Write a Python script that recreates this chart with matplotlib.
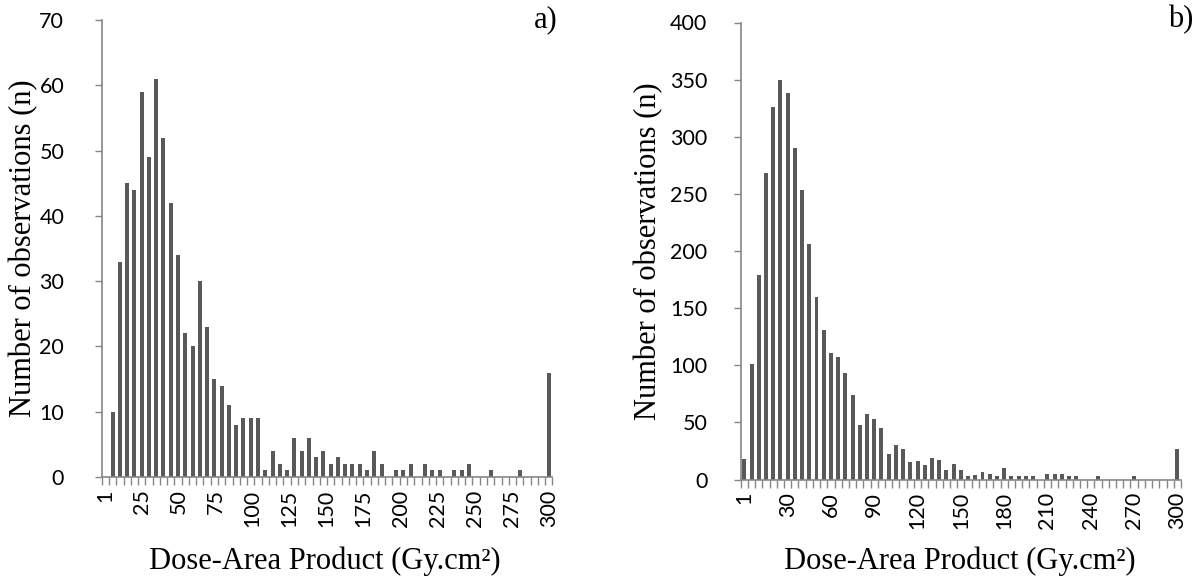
import numpy as np
import matplotlib.pyplot as plt

# Panel a) counts per DAP class (first class "1" is empty)
counts_a = [10, 33, 45, 44, 59, 49, 61, 52, 42, 34, 22, 20, 30, 23, 15, 14, 11, 8, 9, 9,
            9, 1, 4, 2, 1, 6, 4, 6, 3, 4, 2, 3, 2, 2, 2, 1, 4, 2, 0, 1,
            1, 2, 0, 2, 1, 1, 0, 1, 1, 2, 0, 0, 1, 0, 0, 0, 1, 0, 0, 0, 16]
labels_a = ["1", "25", "50", "75", "100", "125", "150", "175", "200", "225", "250", "275", "300"]

# Panel b) counts per DAP class
counts_b = [18, 101, 179, 268, 326, 350, 338, 290, 253, 206, 160, 131, 111, 107, 93, 74, 48, 57, 53, 45,
            22, 30, 27, 15, 16, 13, 19, 17, 8, 14, 8, 3, 4, 7, 5, 3, 10, 3, 3, 3,
            3, 0, 5, 5, 5, 3, 3, 0, 0, 3, 0, 0, 0, 0, 3, 0, 0, 0, 0, 0, 27]
labels_b = ["1", "30", "60", "90", "120", "150", "180", "210", "240", "270", "300"]

W, H = 1196, 585
bar_color = "#595959"
axis_color = "#868686"
tick_font = "Lato"
serif = "Liberation Serif"

fig = plt.figure(figsize=(W / 100, H / 100), dpi=100)
fig.patch.set_facecolor("white")


def px_axes(left, right, bottom, top):
    return fig.add_axes([left / W, (H - bottom) / H, (right - left) / W, (bottom - top) / H])


def style(ax, ymax, ystep, ypad):
    for s in ["top", "right"]:
        ax.spines[s].set_visible(False)
    for s in ["left", "bottom"]:
        ax.spines[s].set_color(axis_color)
        ax.spines[s].set_linewidth(1.2)
    ax.set_ylim(0, ymax)
    ax.set_yticks(np.arange(0, ymax + 1, ystep))
    ax.tick_params(axis="y", direction="out", length=5, width=1, color=axis_color,
                   labelsize=15.5, pad=ypad)
    ax.tick_params(axis="x", which="major", length=0, labelsize=15.5, pad=9)
    ax.tick_params(axis="x", which="minor", direction="out", length=6, width=1, color=axis_color)
    for lab in ax.get_yticklabels() + ax.get_xticklabels():
        lab.set_fontfamily(tick_font)


# ---- panel a
ax1 = px_axes(101.7, 552.4, 477, 20)
xa = np.arange(1, len(counts_a) + 1)
ax1.bar(xa, counts_a, width=0.55, color=bar_color)
ax1.set_xlim(-0.5, len(counts_a) + 0.5)
ax1.set_xticks([0] + list(np.linspace(5, len(counts_a), len(labels_a) - 1)))
ax1.set_xticklabels(labels_a, rotation=90, va="top", ha="center")
ax1.set_xticks(np.arange(-0.5, len(counts_a) + 1, 1), minor=True)
style(ax1, 70, 10, 22)
ax1.set_ylabel("Number of observations (n)", fontfamily=serif, fontsize=22)
ax1.yaxis.set_label_coords((38 - 101.7) / 450.7, 0.5)
ax1.set_xlabel("Dose-Area Product (Gy.cm²)", fontfamily=serif, fontsize=22)
ax1.xaxis.set_label_coords(0.495, (477 - 547) / 457)

# ---- panel b
ax2 = px_axes(740.7, 1181, 479.5, 22.5)
xb = np.arange(len(counts_b))
ax2.bar(xb, counts_b, width=0.55, color=bar_color)
ax2.set_xlim(-0.5, len(counts_b) - 0.5)
ax2.set_xticks(np.arange(0, len(counts_b), 6))
ax2.set_xticklabels(labels_b, rotation=90, va="top", ha="center")
ax2.set_xticks(np.arange(-0.5, len(counts_b), 1), minor=True)
style(ax2, 400, 50, 19)
ax2.set_ylabel("Number of observations (n)", fontfamily=serif, fontsize=22)
ax2.yaxis.set_label_coords((663 - 740.7) / 440.3, 0.5)
ax2.set_xlabel("Dose-Area Product (Gy.cm²)", fontfamily=serif, fontsize=22)
ax2.xaxis.set_label_coords(0.498, (479.5 - 547) / 457)

fig.text(558 / W, 1 - 20 / H, "a)", fontfamily=serif, fontsize=22, ha="right", va="center")
fig.text(1193 / W, 1 - 20 / H, "b)", fontfamily=serif, fontsize=22, ha="right", va="center")

fig.savefig("out.png", dpi=100)
plt.close(fig)
